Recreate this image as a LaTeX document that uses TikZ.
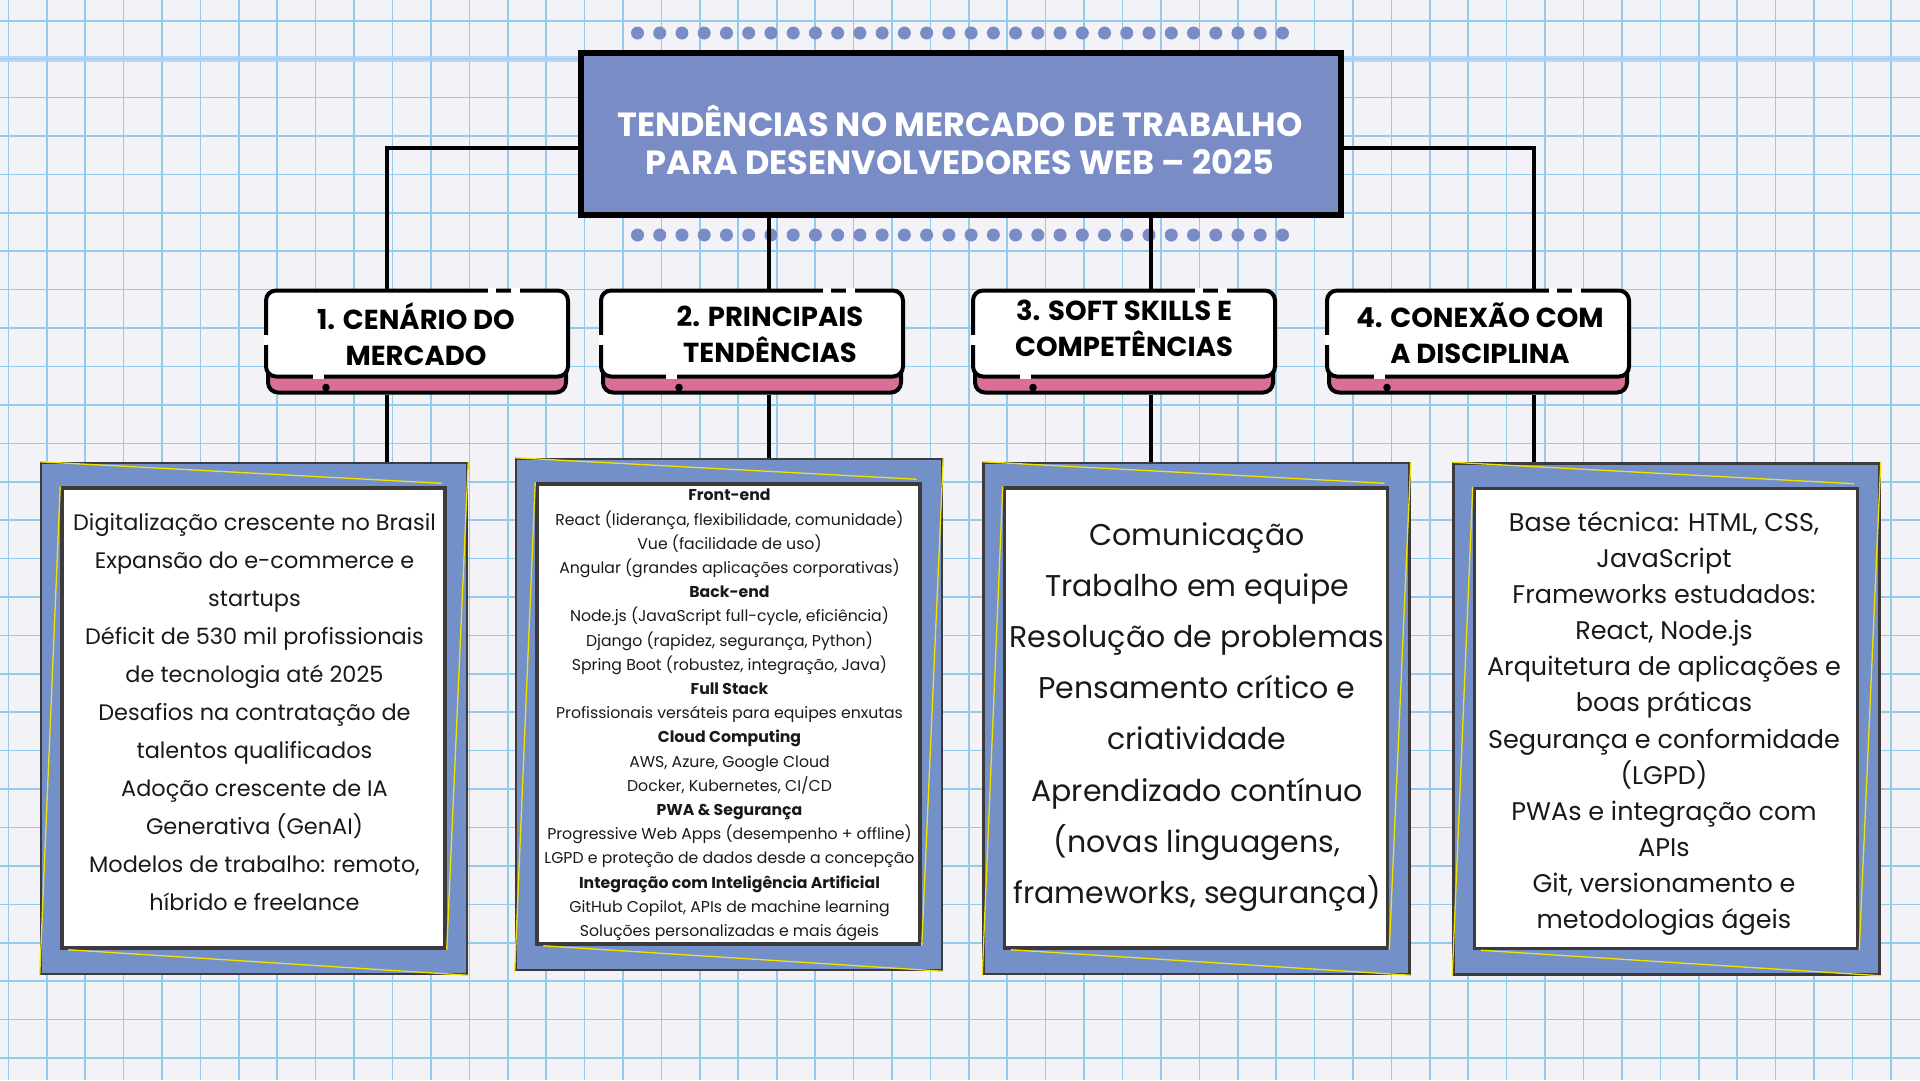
\documentclass[tikz,border=0pt]{standalone}
\usepackage{fontspec}
\setmainfont{Poppins}
\usetikzlibrary{calc}
\definecolor{paper}{HTML}{F3F2F7}
\definecolor{gridc}{HTML}{93CAEE}
\definecolor{titlec}{HTML}{7A8CC6}
\definecolor{framec}{HTML}{7490C8}
\definecolor{pinkc}{HTML}{DB6E98}
\definecolor{yelc}{HTML}{F2E200}
\definecolor{edgec}{HTML}{3C3A3C}
\pgfdeclarelayer{bg}
\pgfsetlayers{bg,main}
\tikzset{
  conn/.style={line width=4pt, black},
  titlebox/.style={draw=black, line width=6pt, fill=titlec, minimum width=760pt, minimum height=162pt, inner sep=0pt},
  hdrbox/.style={draw=black, line width=4pt, fill=pinkc, rounded corners=10pt, minimum width=298pt, minimum height=100pt, inner sep=0pt},
  hdrtext/.style={font=\bfseries\fontsize{27.5}{36}\selectfont, align=center, inner sep=0pt},
  framebox/.style={draw=edgec, line width=2.5pt, fill=framec, minimum width=426pt, minimum height=511pt, inner sep=0pt},
  innerbox/.style={draw=edgec, line width=3.5pt, fill=white, minimum width=383pt, minimum height=460pt, inner sep=0pt},
  yel/.style={yelc, line width=1.3pt},
  gap/.style={white, line width=5pt},
  dotc/.style={fill=titlec},
  bodytext/.style={align=center, inner sep=0pt, text=black!90}
}
\begin{document}
\begin{tikzpicture}[x=1pt,y=-1pt]
\useasboundingbox (0,0) rectangle (1920,1080);
% ---------- nodes ----------
\node[titlebox] (title) at (960.5,134) {};
\node[font=\bfseries\fontsize{33.5}{37.5}\selectfont, text=white, align=center, inner sep=0pt] (tt) at (960,140)
  {TENDÊNCIAS NO MERCADO DE TRABALHO\\PARA DESENVOLVEDORES WEB – 2025};

% header boxes
\foreach \n/\x/\dx in {1/266/62, 2/601/80, 3/973/62, 4/1327/62}{
  \node[hdrbox] (h\n) at (\x+151,342.5) {};
  \draw[fill=white, line width=4pt, rounded corners=10pt] (h\n.north west) rectangle ($(h\n.north east)+(0,86)$);
  \draw[gap] ($(h\n.north west)+(222,0)$) -- +(8,0);
  \draw[gap] ($(h\n.north west)+(245,0)$) -- +(9,0);
  \draw[gap] ($(h\n.north west)+(0,44)$) -- +(0,10);
  \draw[gap] ($(h\n.north west)+(\dx-15,86)$) -- +(11,0);
  \fill ($(h\n.north west)+(\dx-2,97)$) circle (3.8pt);
}
\node[hdrtext] (ht1) at (416,334) {1. CENÁRIO DO\\MERCADO};
\node[hdrtext] (ht2) at (770,334) {2. PRINCIPAIS\\TENDÊNCIAS};
\node[hdrtext] (ht3) at (1124,328.5) {3. SOFT SKILLS E\\COMPETÊNCIAS};
\node[hdrtext] (ht4) at (1480,333.5) {4. CONEXÃO COM\\A DISCIPLINA};

% content frames
\foreach \n/\x/\y in {1/254/718.5, 2/729/714.5, 3/1196.5/718.5, 4/1666.5/719}{
  \node[framebox] (c\n) at (\x,\y) {};
  \node[innerbox] (i\n) at ($(c\n.center)+(-0.5,-0.5)$) {};
  \draw[yel] (c\n.north west) -- ($(i\n.north east)+(-5,-3)$);
  \draw[yel] (c\n.north east) -- (i\n.south east);
  \draw[yel] ($(i\n.south west)+(8,0)$) -- (c\n.south east);
  \draw[yel] (i\n.north west) -- (c\n.south west);
}

\node[bodytext, font=\fontsize{22.4}{38}\selectfont] (t1) at (254.5,712) {Digitalização crescente no Brasil\\Expansão do e-commerce e\\startups\\Déficit de 530 mil profissionais\\de tecnologia até 2025\\Desafios na contratação de\\talentos qualificados\\Adoção crescente de IA\\Generativa (GenAI)\\Modelos de trabalho: remoto,\\híbrido e freelance};

\node[bodytext, font=\fontsize{15.7}{24.2}\selectfont] (t2) at (729.5,715) {\textbf{Front-end}\\React (liderança, flexibilidade, comunidade)\\Vue (facilidade de uso)\\Angular (grandes aplicações corporativas)\\\textbf{Back-end}\\Node.js (JavaScript full-cycle, eficiência)\\Django (rapidez, segurança, Python)\\Spring Boot (robustez, integração, Java)\\\textbf{Full Stack}\\Profissionais versáteis para equipes enxutas\\\textbf{Cloud Computing}\\AWS, Azure, Google Cloud\\Docker, Kubernetes, CI/CD\\\textbf{PWA \& Segurança}\\Progressive Web Apps (desempenho + offline)\\LGPD e proteção de dados desde a concepção\\\textbf{Integração com Inteligência Artificial}\\GitHub Copilot, APIs de machine learning\\Soluções personalizadas e mais ágeis};

\node[bodytext, font=\fontsize{30}{51.2}\selectfont] (t3) at (1197,717) {Comunicação\\Trabalho em equipe\\Resolução de problemas\\Pensamento crítico e\\criatividade\\Aprendizado contínuo\\(novas linguagens,\\frameworks, segurança)};

\node[bodytext, font=\fontsize{25.5}{36.1}\selectfont] (t4) at (1664,723.5) {Base técnica: HTML, CSS,\\JavaScript\\Frameworks estudados:\\React, Node.js\\Arquitetura de aplicações e\\boas práticas\\Segurança e conformidade\\(LGPD)\\PWAs e integração com\\APIs\\Git, versionamento e\\metodologias ágeis};

\coordinate (k1) at (387,148);
\coordinate (k2) at (769,148);
\coordinate (k3) at (1151,148);
\coordinate (k4) at (1534,148);

% ---------- background layer ----------
\begin{pgfonlayer}{bg}
  \fill[paper] (0,0) rectangle (1920,1080);
  \foreach \k in {0,...,49}{ \draw[gridc, line width=1.6pt] (8.3+\k*38.42,0) -- (8.3+\k*38.42,1080); }
  \foreach \k in {0,...,27}{ \draw[gridc, line width=1.6pt] (0,20.7+\k*38.42) -- (1920,20.7+\k*38.42); }
  \draw[gridc!80, line width=6pt, opacity=0.8] (0,59) -- (1920,59);
  \foreach \i in {0,...,29}{
    \fill[dotc] (637.5+\i*22.24,33) circle (6.5pt);
    \fill[dotc] (637.5+\i*22.24,235) circle (6.5pt);
  }
  \draw[conn] (title.west |- k1) -- (k1) -- (k1 |- h1.north);
  \draw[conn] (k2 |- title.south) -- (k2 |- h2.north);
  \draw[conn] (k3 |- title.south) -- (k3 |- h3.north);
  \draw[conn] (title.east |- k4) -- (k4) -- (k4 |- h4.north);
  \draw[conn] (k1 |- h1.south) -- (k1 |- c1.north);
  \draw[conn] (k2 |- h2.south) -- (k2 |- c2.north);
  \draw[conn] (k3 |- h3.south) -- (k3 |- c3.north);
  \draw[conn] (k4 |- h4.south) -- (k4 |- c4.north);
\end{pgfonlayer}
\end{tikzpicture}
\end{document}
